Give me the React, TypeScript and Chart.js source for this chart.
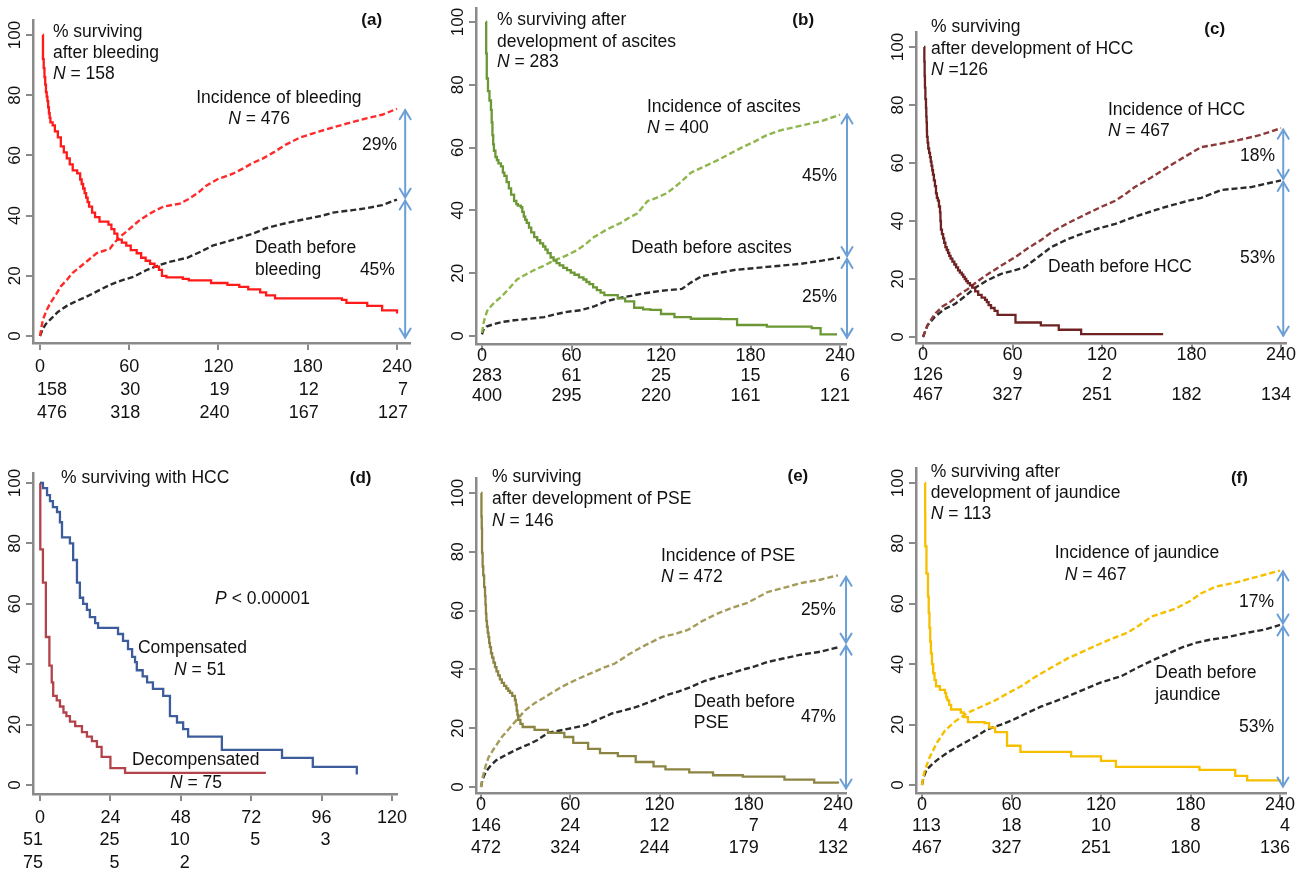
import React, { useEffect, useRef } from 'react';
import { Chart, registerables } from 'chart.js';
Chart.register(...registerables);

const W = 1302;
const H = 873;
const FONT = '"Liberation Sans", Arial, Helvetica, sans-serif';

type Pt = [number, number];

// ---------------- Panel (a) bleeding ----------------
const survA: Pt[] = [[1.8,100],[2,92],[2.5,89],[3,86],[3.5,83.5],[4,81],[4.5,79.5],[5,78],[5.5,76],[6,74],[6.5,72.5],[7,71],[8.5,70],[10,68],[12,66],[14,63],[16,61],[18,59],[20,57],[22,55],[25,54],[27,52],[28,50.5],[29,49],[30,47.5],[31,46],[32,44.5],[33,43],[35,41],[37,39.5],[40,38],[46,37],[48,35.5],[50,34],[52,32],[55,31],[58,30],[61,28.5],[65,27.5],[68,26],[71,25],[74,24],[77,23],[80,22],[82,20],[85,19.5],[96,19],[100,18.5],[115,17.6],[126,17],[134,16.3],[140,15.5],[148,14.5],[152,13.5],[158,12.5],[203,12],[206,11],[220,10],[230,8.5],[240,7.5]];
const incA: Pt[] = [[0,0],[1,3],[2,5.5],[4.5,8.6],[7,11],[11,14],[14,16.5],[18,18.6],[22,21],[27,23],[32,25],[38,27.5],[47,29],[50,31],[54,33],[60,35.5],[67,38.5],[75,41],[83,43],[94,44],[100,45.5],[106,47.5],[112,50],[119,52],[130,54],[136,55.5],[143,57.5],[150,59],[157,61],[165,63.5],[175,66],[188,68],[202,70],[220,72.4],[230,73.5],[240,75.5]];
const deathA: Pt[] = [[0,0],[2,2.5],[4,4],[7,5.5],[12,8],[18,10],[24,11.5],[31,13],[39,15],[47,17],[55,18.5],[63,19.7],[72,22],[80,23.5],[87,24.6],[99,26],[108,28],[116,30],[130,32],[143,34],[152,35.8],[161,37],[170,38],[180,39],[190,40],[197,41],[210,41.8],[220,42.5],[230,43.5],[240,45.3]];
const ticksA = [0, 60, 120, 180, 240];
const riskA1 = ['158', '30', '19', '12', '7'];
const riskA2 = ['476', '318', '240', '167', '127'];
const arrowsA: Pt[] = [[75.5, 45.5], [45.5, -1]];

// ---------------- Panel (b) ascites ----------------
const survB: Pt[] = [[2.5,100],[2.8,90],[3.2,82],[4,78],[5,75],[6,72],[6.5,68],[7,64],[7.5,61],[8,59],[9,57],[10,56],[11,55],[12.7,54],[14,52],[15,51],[16.5,49],[18,47],[19.5,45],[21.5,43],[23,42],[24,41.5],[26,41],[27,39.5],[28,38],[29,37],[30,36],[31.5,34.5],[33,33],[35,31.5],[37,30.5],[39,29.5],[41,28.5],[42.5,27.5],[44,26.4],[46,25],[48,24],[50,23.2],[52,22.5],[54.5,21.7],[57,21],[59.5,20.2],[62,19.5],[65,18.7],[68,18],[70,17.2],[72,16.5],[74.5,15.5],[77,14.6],[79.5,13.8],[82,13],[91,12],[96,11],[102,9],[108,8.5],[113,8.3],[120,7],[129,6],[140,5.5],[160,5.4],[171,3.5],[191,3],[221,2.5],[227,0.5],[238,0.5]];
const incB: Pt[] = [[0,1],[1,4],[2,6],[3.5,8],[6,9.5],[9,11],[12.7,12.4],[18,15],[23.5,18],[29,19.5],[35,21],[42,22.5],[48,24],[56,25.5],[64,27.4],[70,29.5],[75,31.5],[84,34],[93,36],[98,37.5],[104,39],[111,43],[117,44],[124,45.5],[132,48.5],[140,52],[149,54],[158,56],[166,58],[174,60],[183,62],[191,64],[200,65.5],[214,67],[228,68.5],[240,70.5]];
const deathB: Pt[] = [[0,0.5],[1,2],[3,3],[8,3.8],[14,4.5],[21.5,5],[30,5.4],[41.6,6],[50,7],[57,7.7],[66,8.2],[75,9.4],[83,11],[91,12],[100,12.8],[109,13.6],[120,14.4],[134,15],[140,17],[147,19],[158,20],[169,21],[180,21.5],[191,22],[214,23],[228,24],[240,25]];
const ticksB = [0, 60, 120, 180, 240];
const riskB1 = ['283', '61', '25', '15', '6'];
const riskB2 = ['400', '295', '220', '161', '121'];
const arrowsB: Pt[] = [[71, 25], [25, -1]];

// ---------------- Panel (c) HCC ----------------
const survC: Pt[] = [[0.7,100],[0.9,95],[1.1,90],[1.3,86],[1.6,82],[2,79],[2.2,76],[2.4,74],[2.6,71],[2.7,69],[3.1,67],[3.5,65],[4.1,63.5],[4.7,62],[5.2,60.5],[5.7,59],[6.2,57.5],[6.7,56],[7.3,54],[8,52],[8.7,49.5],[9.3,48],[10,47],[10.7,45],[11.4,43],[11.7,40],[12,37],[12.7,35.5],[13.5,34],[14.2,32.5],[15,31],[15.9,30],[16.8,29],[17.6,28],[18.5,27],[19.7,26],[21,25],[22.2,24],[23.5,23],[24.7,22.2],[26,21.5],[27,20.7],[28,20],[29,19.3],[30,18.6],[31.5,17.8],[33,17],[35,15.7],[37,14.5],[39.3,13.6],[41.6,12.8],[42.8,12],[44,11],[45.6,10],[48,9],[50,7.6],[62,5],[79,4],[91,2.5],[106,1],[161,1]];
const incC: Pt[] = [[0,0],[3,4],[8,8],[13,10.5],[19,12.4],[24,14.5],[30,16.5],[36,19],[43.6,21.7],[52,24.5],[62,27.6],[70,30.5],[79,33.4],[86,36],[92.6,38],[100,40],[110.7,42.7],[120,45],[129,47],[135,49],[142,51.7],[153,55],[164,58.6],[175,62],[186.6,65.5],[198,66.5],[209,67.6],[225,69.5],[240,72]];
const deathC: Pt[] = [[0,0],[3,4],[8,7],[14,9.5],[21.5,11.4],[28,14],[35,17],[43,19.5],[52,21.7],[60,22.8],[68,24],[77,27.5],[86,31],[96,33.5],[106,35.5],[118,37.5],[129,39],[142,41.5],[156,43.8],[167,45.5],[178,47],[186.6,48],[200,50.7],[220,51.7],[240,54]];
const ticksC = [0, 60, 120, 180, 240];
const riskC1 = ['126', '9', '2', '', ''];
const riskC2 = ['467', '327', '251', '182', '134'];
const arrowsC: Pt[] = [[72, 54], [54, 0]];

// ---------------- Panel (d) surviving with HCC ----------------
const compD: Pt[] = [[0,100],[1,98.3],[2.4,96],[3.4,94],[4.4,92],[5.8,90.4],[6.8,87],[7.5,82],[10.2,80],[11.3,74.5],[12.6,67],[13.6,62],[14.7,60],[16,58],[17,55.6],[18.8,53.6],[19.8,52],[26.6,50],[28.3,47.7],[30,45],[31.4,42.4],[32.4,40.7],[33,38],[35,36],[36.5,34],[38.5,31.8],[42,29.5],[44.3,22.8],[46.7,20.7],[48.8,18.5],[50.5,16],[62,11.6],[82.5,9],[93,6],[108,3.5]];
const decD: Pt[] = [[0,100],[0.1,78],[1,67],[2,49],[3.2,39.5],[4,34],[4.5,29.5],[5.7,28],[6.8,26],[8,24],[9,22.8],[10.2,21],[12,19.5],[14.3,17.5],[16,16],[17.7,14.5],[19.4,12.6],[21,9.3],[24,5.6],[29,4],[77,4]];
const ticksD = [0, 24, 48, 72, 96, 120];
const riskD1 = ['51', '25', '10', '5', '3', ''];
const riskD2 = ['75', '5', '2', '', '', ''];

// ---------------- Panel (e) PSE ----------------
const survE: Pt[] = [[0,100],[0.3,92],[0.5,88],[0.7,79.6],[1.1,75],[1.5,72],[2.1,68],[2.7,65],[3,62],[3.3,59],[3.6,56.5],[4,54.5],[4.5,52.5],[5,51],[5.5,49],[6,47.6],[6.7,45.5],[7.5,44],[8.4,42.3],[9.4,40.8],[10.4,39.3],[11.5,38],[12.7,36.6],[14,35.4],[15.5,34.4],[17,33.5],[18.3,32.7],[19.5,32],[21,31],[22.8,29.6],[23.4,28],[24,26],[24.5,24.5],[25,22.8],[26.5,21.5],[28,20.4],[36,19.4],[45,18.4],[56,17],[62,15],[72,13],[80,11.5],[92,10.5],[104,8.5],[116,7],[124,6],[140,5],[156,4],[176,3.5],[204,2.5],[224,1.5],[240,1.2]];
const incE: Pt[] = [[0,0],[1,3],[3,7],[5,10],[8,12.5],[14,17],[20,20.5],[29.5,26],[36,28.5],[43,30.6],[54,34],[64,36.5],[74.5,38.8],[82,40.5],[90,42],[99,45],[108,47.6],[121.5,51],[130,52],[139,53.4],[149,56.5],[159,59],[169,61],[179,62.6],[192.6,66.3],[204,67.8],[215.4,69.4],[228,70.5],[240,72]];
const deathE: Pt[] = [[0,0],[1,2.5],[3,5],[6,7],[10,9],[17,11],[25,13],[32,14.5],[38,16],[45,18.4],[56,19.5],[70,21],[79,23],[88,25],[103,27],[114,29],[125,31.3],[133,32.5],[141,34],[150,36],[159,37.4],[167,38.5],[175,39.8],[184,41],[192.6,42.5],[204,43.8],[215,45],[228,46],[240,47.5]];
const ticksE = [0, 60, 120, 180, 240];
const riskE1 = ['146', '24', '12', '7', '4'];
const riskE2 = ['472', '324', '244', '179', '132'];
const arrowsE: Pt[] = [[72, 48.6], [48.6, -1]];

// ---------------- Panel (f) jaundice ----------------
const survF: Pt[] = [[2,100],[2.1,90],[2.2,79],[3,70],[4,62.4],[4.5,57],[5,52],[5.5,47.5],[6,43.6],[6.7,40],[7.5,37],[8.4,34.7],[9.4,32.7],[12,31.5],[15.4,30.4],[16.2,29],[17,28],[18.2,26.5],[19.5,25],[26,24],[28,22.5],[30.8,20.8],[42,20.5],[45,19],[49,17.5],[57,13],[66,11],[100,9.5],[120,8],[130,6],[186,5],[210,3],[218,1.5],[240,1.2]];
const incF: Pt[] = [[0,0],[1,3],[2,5],[5,9],[10,14],[15.4,18],[22,21],[31,24],[40,26],[49,28],[58,30.5],[66.4,32.7],[75,35.5],[84.6,38.3],[98,42],[111,44.9],[125,48],[138,50.5],[146,53],[154,55.8],[170,58.4],[180,61],[187,63.4],[197,65.7],[210,67],[225,69],[240,71]];
const deathF: Pt[] = [[0,0],[1,2.5],[3,5],[7,7],[12,9],[18,11],[25,13],[36,16],[44,18.5],[53,20],[62,21.8],[71,24],[80,26],[88,27.5],[96,29],[108,31.5],[120,34],[133.5,36],[145,39],[156,41.6],[165,43.5],[174,45.5],[183,47],[192,48],[205,49],[219,50.5],[230,51.5],[240,53]];
const ticksF = [0, 60, 120, 180, 240];
const riskF1 = ['113', '18', '10', '8', '4'];
const riskF2 = ['467', '327', '251', '180', '136'];
const arrowsF: Pt[] = [[71.2, 53], [53, -1]];

const yTicks = [0, 20, 40, 60, 80, 100];

// ---------------- styles / layout ----------------
const BLACK_DASH = '#2b2b2b';
const ARROW = '#6b9fd6';
const AXIS = '#8a8a8a';

type Series = { data: Pt[]; color: string; dashed?: boolean; stepped?: boolean };
type Label = { x: number; y: number; text: string; align?: 'left' | 'right'; bold?: boolean };
type Spec = {
  box: { left: number; right: number; top: number; bottom: number };
  xa: [number, number, number, number];
  ya: [number, number, number, number];
  ticks: number[];
  risk1: string[];
  risk2: string[];
  rowDy: [number, number, number];
  col0: { align: 'left' | 'right'; dx: number };
  colDx: number;
  series: Series[];
  arrowX?: number;
  arrows?: Pt[];
  labels: Label[];
};

const specs: Spec[] = [
  {
    box: { left: 33, right: 410, top: 20, bottom: 343 },
    xa: [0, 40, 240, 397], ya: [0, 336, 100, 35],
    ticks: ticksA, risk1: riskA1, risk2: riskA2, rowDy: [24, 47, 70],
    col0: { align: 'left', dx: -3 }, colDx: 11,
    series: [
      { data: survA, color: '#ff1a1a', stepped: true },
      { data: incA, color: '#ff2a2a', dashed: true },
      { data: deathA, color: BLACK_DASH, dashed: true },
    ],
    arrowX: 245.5, arrows: arrowsA,
    labels: [
      { x: 8.7, y: 101, text: '% surviving' },
      { x: 8.7, y: 94, text: 'after bleeding' },
      { x: 8.7, y: 87, text: '*N* = 158' },
      { x: 230, y: 105, text: '(a)', align: 'right', bold: true },
      { x: 105, y: 79, text: 'Incidence of bleeding' },
      { x: 126.5, y: 72, text: '*N* = 476' },
      { x: 144.5, y: 29.2, text: 'Death before' },
      { x: 144.5, y: 22, text: 'bleeding' },
      { x: 240, y: 63.5, text: '29%', align: 'right' },
      { x: 238.6, y: 22, text: '45%', align: 'right' },
    ],
  },
  {
    box: { left: 476, right: 846, top: 8, bottom: 344 },
    xa: [0, 482, 240, 840], ya: [0, 336, 100, 22],
    ticks: ticksB, risk1: riskB1, risk2: riskB2, rowDy: [12, 32, 52],
    col0: { align: 'left', dx: -10 }, colDx: 10,
    series: [
      { data: survB, color: '#6b9835', stepped: true },
      { data: incB, color: '#8fb64c', dashed: true },
      { data: deathB, color: BLACK_DASH, dashed: true },
    ],
    arrowX: 244.7, arrows: arrowsB,
    labels: [
      { x: 10, y: 100.6, text: '% surviving after' },
      { x: 10, y: 93.6, text: 'development of ascites' },
      { x: 10, y: 87.3, text: '*N* = 283' },
      { x: 222.6, y: 100.6, text: '(b)', align: 'right', bold: true },
      { x: 110.6, y: 73, text: 'Incidence of ascites' },
      { x: 110.6, y: 66.2, text: '*N* = 400' },
      { x: 100, y: 28, text: 'Death before ascites' },
      { x: 238, y: 51, text: '45%', align: 'right' },
      { x: 238, y: 12.5, text: '25%', align: 'right' },
    ],
  },
  {
    box: { left: 916, right: 1286, top: 32, bottom: 343 },
    xa: [0, 923, 240, 1281], ya: [0, 337, 100, 47],
    ticks: ticksC, risk1: riskC1, risk2: riskC2, rowDy: [12, 32, 52],
    col0: { align: 'left', dx: -10 }, colDx: 10,
    series: [
      { data: survC, color: '#6e2222', stepped: true },
      { data: incC, color: '#8e3a3a', dashed: true },
      { data: deathC, color: BLACK_DASH, dashed: true },
    ],
    arrowX: 241.5, arrows: arrowsC,
    labels: [
      { x: 5.4, y: 107, text: '% surviving' },
      { x: 5.4, y: 99.3, text: 'after development of HCC' },
      { x: 5.4, y: 92, text: '*N* =126' },
      { x: 202.5, y: 106, text: '(c)', align: 'right', bold: true },
      { x: 124, y: 78.3, text: 'Incidence of HCC' },
      { x: 124, y: 71, text: '*N* = 467' },
      { x: 83.8, y: 24, text: 'Death before HCC' },
      { x: 236, y: 62.4, text: '18%', align: 'right' },
      { x: 236, y: 27.2, text: '53%', align: 'right' },
    ],
  },
  {
    box: { left: 33, right: 397, top: 473, bottom: 794 },
    xa: [0, 40, 120, 392], ya: [0, 785, 100, 483],
    ticks: ticksD, risk1: riskD1, risk2: riskD2, rowDy: [24, 46, 69],
    col0: { align: 'right', dx: 3 }, colDx: 9,
    series: [
      { data: compD, color: '#3d5c9c', stepped: true },
      { data: decD, color: '#b3434b', stepped: true },
    ],
    labels: [
      { x: 7.2, y: 101.7, text: '% surviving with HCC' },
      { x: 113, y: 101.7, text: '(d)', align: 'right', bold: true },
      { x: 59.7, y: 61.6, text: '*P* < 0.00001' },
      { x: 33.4, y: 45.4, text: 'Compensated' },
      { x: 45.7, y: 38, text: '*N* = 51' },
      { x: 31.4, y: 8.3, text: 'Decompensated' },
      { x: 44.3, y: 0.7, text: '*N* = 75' },
    ],
  },
  {
    box: { left: 476, right: 846, top: 478, bottom: 793 },
    xa: [0, 481, 240, 838], ya: [0, 787, 100, 493],
    ticks: ticksE, risk1: riskE1, risk2: riskE2, rowDy: [12, 33, 55],
    col0: { align: 'left', dx: -10 }, colDx: 10,
    series: [
      { data: survE, color: '#8b8442', stepped: true },
      { data: incE, color: '#a59c5a', dashed: true },
      { data: deathE, color: BLACK_DASH, dashed: true },
    ],
    arrowX: 245.4, arrows: arrowsE,
    labels: [
      { x: 7.4, y: 105.4, text: '% surviving' },
      { x: 7.4, y: 98, text: 'after development of PSE' },
      { x: 7.4, y: 90.5, text: '*N* = 146' },
      { x: 220, y: 105.8, text: '(e)', align: 'right', bold: true },
      { x: 121, y: 78.6, text: 'Incidence of PSE' },
      { x: 121, y: 71.4, text: '*N* = 472' },
      { x: 143, y: 29, text: 'Death before' },
      { x: 143, y: 21.8, text: 'PSE' },
      { x: 238.6, y: 60.2, text: '25%', align: 'right' },
      { x: 238.6, y: 23.9, text: '47%', align: 'right' },
    ],
  },
  {
    box: { left: 916, right: 1286, top: 468, bottom: 793 },
    xa: [0, 922, 240, 1280], ya: [0, 785, 100, 483],
    ticks: ticksF, risk1: riskF1, risk2: riskF2, rowDy: [12, 33, 55],
    col0: { align: 'left', dx: -10 }, colDx: 10,
    series: [
      { data: survF, color: '#f6bf00', stepped: true },
      { data: incF, color: '#f6bf00', dashed: true },
      { data: deathF, color: BLACK_DASH, dashed: true },
    ],
    arrowX: 242, arrows: arrowsF,
    labels: [
      { x: 5.8, y: 103.7, text: '% surviving after' },
      { x: 5.8, y: 96.6, text: 'development of jaundice' },
      { x: 5.8, y: 89.7, text: '*N* = 113' },
      { x: 218.5, y: 101.7, text: '(f)', align: 'right', bold: true },
      { x: 89, y: 76.8, text: 'Incidence of jaundice' },
      { x: 95.7, y: 69.5, text: '*N* = 467' },
      { x: 156.4, y: 37, text: 'Death before' },
      { x: 156.4, y: 29.8, text: 'jaundice' },
      { x: 236, y: 60.7, text: '17%', align: 'right' },
      { x: 236, y: 19.3, text: '53%', align: 'right' },
    ],
  },
];

const TICK_LEN = 7;

function drawRich(ctx: CanvasRenderingContext2D, text: string, x: number, y: number, align: 'left' | 'right' | 'center', size: number, bold = false) {
  const parts = text.split('*');
  const segs = parts.map((t, i) => ({ t, it: i % 2 === 1 })).filter((s) => s.t.length);
  const fontFor = (it: boolean) => `${it ? 'italic ' : ''}${bold ? 'bold ' : ''}${size}px ${FONT}`;
  let total = 0;
  for (const s of segs) {
    ctx.font = fontFor(s.it);
    total += ctx.measureText(s.t).width;
  }
  let cx = align === 'left' ? x : align === 'right' ? x - total : x - total / 2;
  ctx.textAlign = 'left';
  ctx.textBaseline = 'middle';
  for (const s of segs) {
    ctx.font = fontFor(s.it);
    ctx.fillText(s.t, cx, y);
    cx += ctx.measureText(s.t).width;
  }
}

function drawExtras(chart: any, spec: Spec) {
  const ctx: CanvasRenderingContext2D = chart.ctx;
  const xs = chart.scales.x;
  const ys = chart.scales.y;
  const area = chart.chartArea;
  ctx.save();
  ctx.fillStyle = '#111';
  for (const v of yTicks) {
    const py = ys.getPixelForValue(v);
    ctx.save();
    ctx.translate(area.left - 18, py);
    ctx.rotate(-Math.PI / 2);
    ctx.font = `17px ${FONT}`;
    ctx.textAlign = 'center';
    ctx.textBaseline = 'middle';
    ctx.fillText(String(v), 0, 0);
    ctx.restore();
  }
  const rows = [spec.ticks.map(String), spec.risk1, spec.risk2];
  rows.forEach((row, r) => {
    const py = area.bottom + spec.rowDy[r];
    row.forEach((txt, i) => {
      if (!txt) return;
      const px = xs.getPixelForValue(spec.ticks[i]);
      if (r === 0) {
        drawRich(ctx, txt, px, py, 'center', 18);
      } else if (i === 0) {
        drawRich(ctx, txt, px + spec.col0.dx, py, spec.col0.align, 18);
      } else {
        drawRich(ctx, txt, px + spec.colDx, py, 'right', 18);
      }
    });
  });
  for (const l of spec.labels) {
    drawRich(ctx, l.text, xs.getPixelForValue(l.x), ys.getPixelForValue(l.y), l.align || 'left', l.bold ? 17 : 17.5, !!l.bold);
  }
  if (spec.arrows && spec.arrowX !== undefined) {
    const ax = xs.getPixelForValue(spec.arrowX);
    ctx.strokeStyle = ARROW;
    ctx.lineWidth = 2;
    ctx.lineCap = 'round';
    for (const [a, b] of spec.arrows) {
      const y1 = ys.getPixelForValue(a) + 1.5;
      const y2 = ys.getPixelForValue(b) - 1.5;
      ctx.beginPath();
      ctx.moveTo(ax, y1);
      ctx.lineTo(ax, y2);
      ctx.stroke();
      ctx.beginPath();
      ctx.moveTo(ax - 5.5, y1 + 9);
      ctx.lineTo(ax, y1);
      ctx.lineTo(ax + 5.5, y1 + 9);
      ctx.stroke();
      ctx.beginPath();
      ctx.moveTo(ax - 5.5, y2 - 9);
      ctx.lineTo(ax, y2);
      ctx.lineTo(ax + 5.5, y2 - 9);
      ctx.stroke();
    }
  }
  ctx.restore();
}

function Panel({ spec }: { spec: Spec }) {
  const ref = useRef<HTMLCanvasElement>(null);
  useEffect(() => {
    const { box, xa, ya } = spec;
    const xPer = (xa[2] - xa[0]) / (xa[3] - xa[1]);
    const yPer = (ya[2] - ya[0]) / (ya[3] - ya[1]);
    const xMin = xa[0] + (box.left - xa[1]) * xPer;
    const xMax = xa[0] + (box.right - xa[1]) * xPer;
    const yMin = ya[0] + (box.bottom - ya[1]) * yPer;
    const yMax = ya[0] + (box.top - ya[1]) * yPer;
    const axisCommon = {
      display: true,
      ticks: { display: false },
      grid: { display: true, drawOnChartArea: false, drawTicks: true, tickLength: TICK_LEN, color: AXIS, lineWidth: 2 },
      border: { display: true, color: AXIS, width: 2.5 },
    };
    const overlay = {
      id: 'overlay',
      afterDraw: (c: any) => drawExtras(c, spec),
    };
    const chart = new Chart(ref.current as HTMLCanvasElement, {
      type: 'line',
      data: {
        datasets: spec.series.map((s) => ({
          data: s.data.map(([x, y]) => ({ x, y })),
          borderColor: s.color,
          borderWidth: s.dashed ? 2.4 : 2.3,
          borderDash: s.dashed ? [6, 3] : [],
          stepped: s.stepped ? 'before' : false,
          pointRadius: 0,
          pointHoverRadius: 0,
          fill: false,
          tension: 0,
        })) as any,
      },
      options: {
        responsive: false,
        animation: false,
        devicePixelRatio: 1,
        events: [],
        layout: {
          autoPadding: false,
          padding: {
            left: box.left - TICK_LEN,
            right: W - box.right,
            top: box.top,
            bottom: H - box.bottom - TICK_LEN,
          },
        },
        plugins: { legend: { display: false }, tooltip: { enabled: false } },
        scales: {
          x: {
            ...axisCommon,
            type: 'linear',
            min: xMin,
            max: xMax,
            afterBuildTicks: (axis: any) => {
              axis.ticks = spec.ticks.map((v) => ({ value: v }));
            },
          },
          y: {
            ...axisCommon,
            type: 'linear',
            min: yMin,
            max: yMax,
            afterBuildTicks: (axis: any) => {
              axis.ticks = yTicks.map((v) => ({ value: v }));
            },
          },
        } as any,
      },
      plugins: [overlay],
    } as any);
    return () => chart.destroy();
  }, [spec]);
  return (
    <canvas
      ref={ref}
      width={W}
      height={H}
      style={{ position: 'absolute', left: 0, top: 0, width: W, height: H }}
    />
  );
}

export default function App() {
  return (
    <div style={{ position: 'absolute', left: 0, top: 0, width: W, height: H, background: '#fff', overflow: 'hidden' }}>
      {specs.map((s, i) => (
        <Panel key={i} spec={s} />
      ))}
    </div>
  );
}
